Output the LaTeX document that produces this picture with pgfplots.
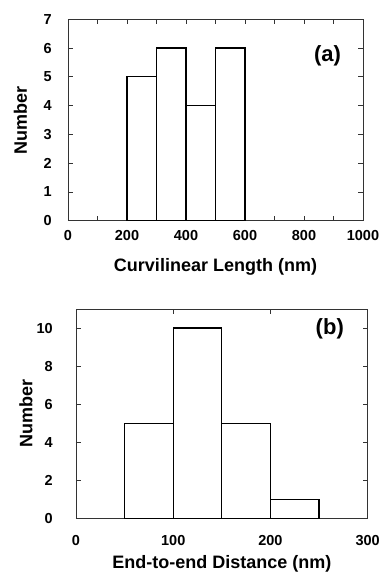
\documentclass[border=0pt]{standalone}
\usepackage{fontspec}
\setmainfont{Liberation Sans}
\usepackage{pgfplots}
\pgfplotsset{compat=1.18}

\pgfplotsset{
  histo/.style={
    scale only axis,
    axis line style={black!80, line width=0.9pt},
    tick align=inside,
    major tick length=5pt,
    minor tick length=5pt,
    tick style={black!80, line width=0.8pt},
    /pgf/number format/assume math mode=true,
    ticklabel style={font=\bfseries\fontsize{14.5}{16}\selectfont},
    label style={font=\bfseries\fontsize{18}{20}\selectfont},
    ymin=0,
    xmin=0,
    xticklabel style={anchor=north, inner sep=0pt},
    yticklabel style={anchor=east, inner sep=0pt},
    xlabel style={anchor=base},
    x tick label style={/pgf/number format/1000 sep={}},
  },
  bars/.style={ybar interval, draw=black, fill=white, line width=1.2pt},
}

\begin{document}
\begin{tikzpicture}
\path[use as bounding box] (0pt,0pt) rectangle (383pt,-573pt);

% (a) contour length
\begin{axis}[histo,
  at={(68pt,-19.3pt)}, anchor=north west,
  width=295pt, height=201.4pt,
  xmax=1000, ymax=7,
  xtick={0,200,...,1000},
  minor xtick={100,300,...,900},
  ytick={0,1,...,7},
  xticklabel style={yshift=-9pt},
  yticklabel style={xshift=-16pt},
  xlabel={Curvilinear Length (nm)},
  ylabel={Number},
  xlabel style={at={([yshift=-51.3pt]axis description cs:0.5,0)}},
  ylabel style={at={([xshift=-47.5pt]axis description cs:0,0.5)}, anchor=center},
]
\addplot[bars] coordinates {(200,5) (300,6) (400,4) (500,6) (600,6)};
\node[font=\bfseries\fontsize{22}{24}\selectfont] at (axis cs:880,5.72) {(a)};
\end{axis}

% (b) end-to-end distance
\begin{axis}[histo,
  at={(76pt,-309pt)}, anchor=north west,
  width=291.7pt, height=209.3pt,
  xmax=300, ymax=11,
  xtick={0,100,200,300},
  ytick={0,2,...,10},
  xticklabel style={yshift=-16.5pt},
  yticklabel style={xshift=-23pt},
  xlabel={End-to-end Distance (nm)},
  ylabel={Number},
  xlabel style={at={([yshift=-50pt]axis description cs:0.5,0)}},
  ylabel style={at={([xshift=-50pt]axis description cs:0,0.5)}, anchor=center},
]
\addplot[bars] coordinates {(50,5) (100,10) (150,5) (200,1) (250,1)};
\node[font=\bfseries\fontsize{22}{24}\selectfont] at (axis cs:261,9.95) {(b)};
\end{axis}
\end{tikzpicture}
\end{document}
